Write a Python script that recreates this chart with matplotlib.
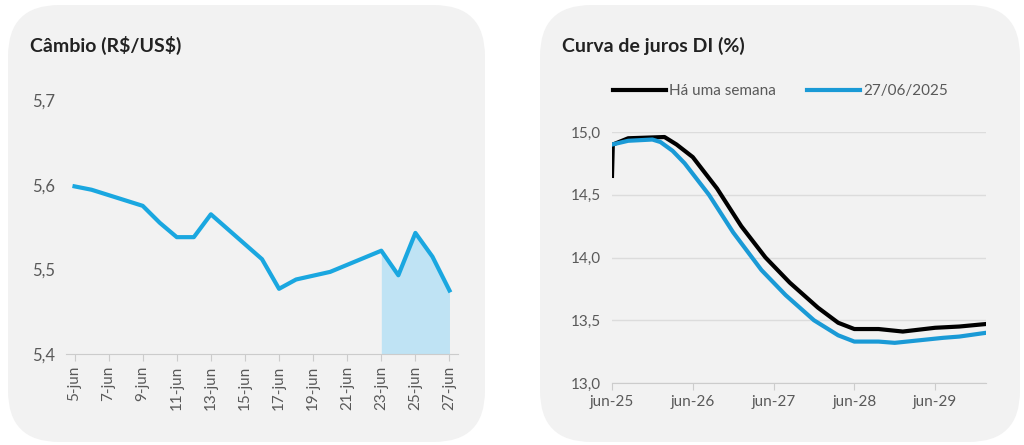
import matplotlib
matplotlib.use("Agg")
import matplotlib.pyplot as plt
from matplotlib.patches import FancyBboxPatch

plt.rcParams['font.family'] = ['Lato', 'DejaVu Sans']

# Câmbio (R$/US$), day of June
fx_days = [5, 6, 9, 10, 11, 12, 13, 16, 17, 18, 20, 23, 24, 25, 26, 27]
fx_vals = [5.598, 5.594, 5.575, 5.555, 5.538, 5.538, 5.565, 5.512, 5.477, 5.488, 5.497,
           5.522, 5.493, 5.543, 5.515, 5.475]
fx_ticks = list(range(5, 28, 2))
fx_labels = [f"{d}-jun" for d in fx_ticks]

# Curva de juros DI, years after jun-25
di_t = [0.0, 0.2, 0.5, 0.6, 0.75, 0.9, 1.2, 1.5, 1.85, 2.15, 2.5, 2.8, 3.0, 3.3, 3.5, 3.8, 4.1, 4.3, 4.63]
di_now = [14.90, 14.93, 14.94, 14.92, 14.85, 14.75, 14.50, 14.20, 13.90, 13.70, 13.50, 13.38,
          13.33, 13.33, 13.32, 13.34, 13.36, 13.37, 13.40]
di_week_t = [0.0, 0.01, 0.2, 0.65, 0.8, 1.0, 1.3, 1.6, 1.9, 2.2, 2.55, 2.8, 3.0, 3.3, 3.6, 4.0, 4.3, 4.63]
di_week = [14.65, 14.90, 14.95, 14.96, 14.90, 14.80, 14.55, 14.25, 14.00, 13.80, 13.60, 13.48,
           13.43, 13.43, 13.41, 13.44, 13.45, 13.47]
di_ticks = [0, 1, 2, 3, 4]
di_labels = ['jun-25', 'jun-26', 'jun-27', 'jun-28', 'jun-29']

W, H = 1024, 445
fig = plt.figure(figsize=(W / 100, H / 100), dpi=100)
bg = '#f2f2f2'
blue = '#1aa7e0'
gray = '#595959'

for x0, x1 in [(8, 485), (540, 1020)]:
    fig.patches.append(FancyBboxPatch((x0 / W, 3 / H), (x1 - x0) / W, 437 / H,
                                      boxstyle="round,pad=0,rounding_size=0.05",
                                      mutation_aspect=W / H,
                                      transform=fig.transFigure, fc=bg, ec='none', zorder=-5))

fig.text(30 / W, 1 - 52 / H, r'Câmbio (R\$/US\$)', fontsize=14, fontweight='bold', color='#222222')
fig.text(562 / W, 1 - 52 / H, 'Curva de juros DI (%)', fontsize=14, fontweight='bold', color='#222222')

# left chart
ax1 = fig.add_axes([66 / W, 1 - 354 / H, (458 - 66) / W, (354 - 100) / H])
ax1.set_facecolor(bg)
ax1.plot(fx_days, fx_vals, color=blue, lw=3)
fill_d = [d for d in fx_days if d >= 23]
fill_v = [v for d, v in zip(fx_days, fx_vals) if d >= 23]
ax1.fill_between(fill_d, 5.4, fill_v, color='#bfe3f4', lw=0)
ax1.set_ylim(5.4, 5.7)
ax1.set_xlim(4.5, 27.5)
ax1.set_yticks([5.4, 5.5, 5.6, 5.7])
ax1.set_yticklabels(['5,4', '5,5', '5,6', '5,7'])
ax1.set_xticks(fx_ticks)
ax1.set_xticklabels(fx_labels, rotation=90)
for s in ['top', 'right', 'left']:
    ax1.spines[s].set_visible(False)
ax1.spines['bottom'].set_color('#cccccc')
ax1.tick_params(axis='y', length=0, labelsize=12, colors=gray, pad=8)
ax1.tick_params(axis='x', length=5, color='#cccccc', labelsize=11, colors=gray)

# right chart
ax2 = fig.add_axes([612 / W, 1 - 383 / H, (986 - 612) / W, (383 - 132) / H])
ax2.set_facecolor(bg)
ax2.plot(di_week_t, di_week, color='black', lw=3, label='Há uma semana')
ax2.plot(di_t, di_now, color='#1a9ad6', lw=3, label='27/06/2025')
ax2.set_ylim(13.0, 15.0)
ax2.set_xlim(0, 4.63)
ax2.set_yticks([13.0, 13.5, 14.0, 14.5, 15.0])
ax2.set_yticklabels(['13,0', '13,5', '14,0', '14,5', '15,0'])
ax2.set_xticks(di_ticks)
ax2.set_xticklabels(di_labels)
ax2.grid(axis='y', color='#dcdcdc', lw=1)
ax2.set_axisbelow(True)
for s in ['top', 'right', 'left']:
    ax2.spines[s].set_visible(False)
ax2.spines['bottom'].set_color('#cccccc')
ax2.tick_params(axis='y', length=0, labelsize=11, colors=gray, pad=8)
ax2.tick_params(axis='x', length=5, color='#cccccc', labelsize=11, colors=gray)
leg = ax2.legend(loc='lower center', bbox_to_anchor=(0.45, 1.08), ncol=2, frameon=False,
                 fontsize=11, labelcolor=gray, handlelength=3.5, handletextpad=0.2, columnspacing=2)

fig.savefig('out.png', dpi=100, facecolor='white')
